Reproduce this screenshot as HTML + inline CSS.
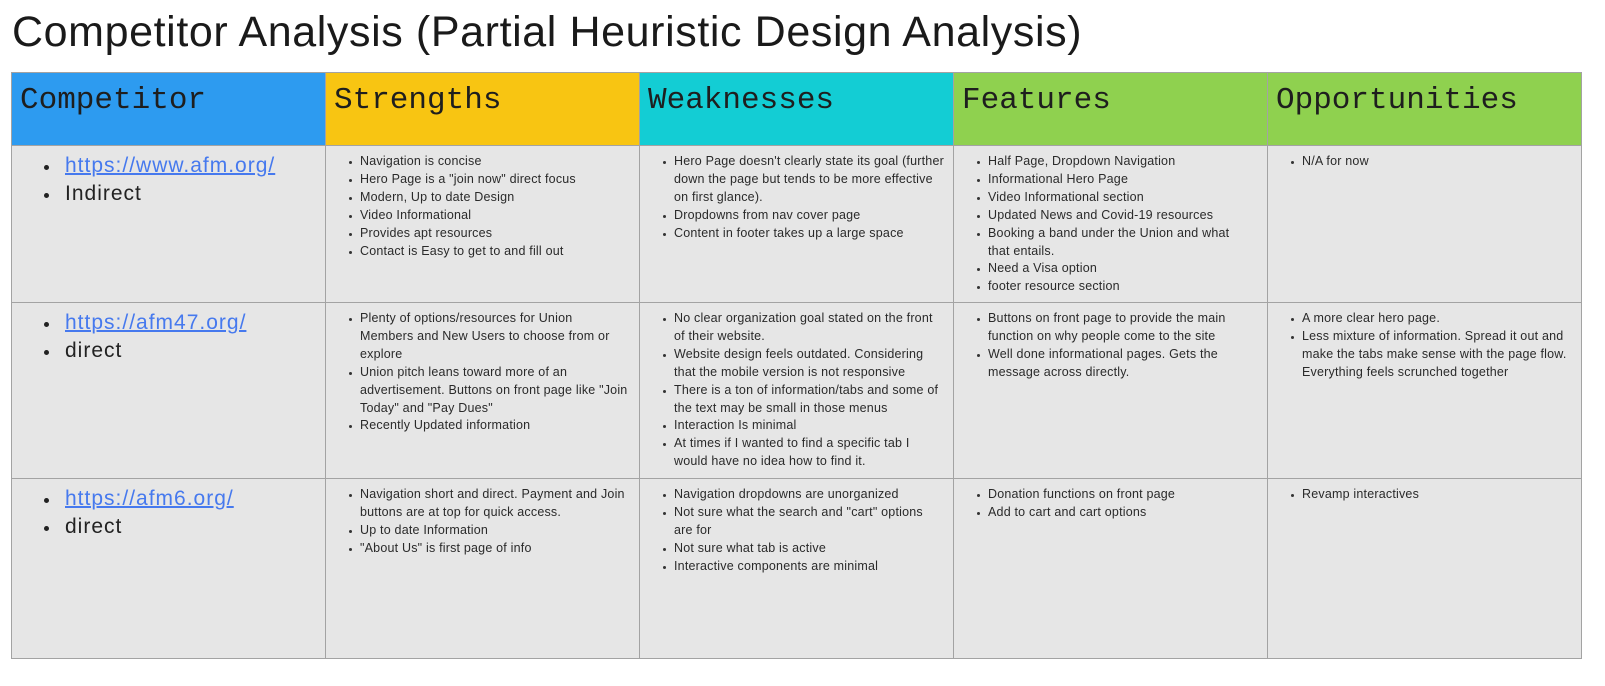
<!DOCTYPE html>
<html><head><meta charset="utf-8">
<style>
*{margin:0;padding:0;box-sizing:border-box}
body{width:1605px;height:686px;background:#fff;position:relative;overflow:hidden;font-family:"Liberation Sans",sans-serif;color:#222}
.title{position:absolute;left:12px;top:4px;font-size:43px;letter-spacing:0.6px;line-height:56px;color:#1a1a1a;white-space:nowrap}
.c{position:absolute;border:1px solid #a3a3a3;background:#e6e6e6}
.h{font-family:"Liberation Mono",monospace;font-size:31px;line-height:40px;padding:8px 0 0 8px;color:#1e1e1e;white-space:nowrap}
ul{list-style:none}
.s li{position:relative;font-size:12.5px;letter-spacing:0.2px;line-height:17.9px;white-space:nowrap;padding-left:34px;color:#2a2a2a}
.s li:before{content:"";position:absolute;left:23px;top:8px;width:3px;height:3px;background:#333;border-radius:50%}
.s{padding-top:7px}
.b li{position:relative;font-size:21px;letter-spacing:1px;line-height:28px;padding-left:53px;white-space:nowrap;color:#222}
.b li:before{content:"";position:absolute;left:32px;top:13px;width:5px;height:5px;background:#222;border-radius:50%}
.b{padding-top:6px}
.b a{color:#4679ee;text-decoration:underline;text-decoration-thickness:2px}
</style></head><body>
<div class="title">Competitor Analysis (Partial Heuristic Design Analysis)</div>

<div class="c h" style="left:11px;top:72px;width:315px;height:74px;background:#2d9bf0">Competitor</div>
<div class="c h" style="left:325px;top:72px;width:315px;height:74px;background:#f8c512">Strengths</div>
<div class="c h" style="left:639px;top:72px;width:315px;height:74px;background:#13cdd4">Weaknesses</div>
<div class="c h" style="left:953px;top:72px;width:315px;height:74px;background:#8fd14f">Features</div>
<div class="c h" style="left:1267px;top:72px;width:315px;height:74px;background:#8fd14f">Opportunities</div>

<!-- row 1 -->
<div class="c" style="left:11px;top:145px;width:315px;height:158px"><ul class="b"><li><a>https://www.afm.org/</a></li><li>Indirect</li></ul></div>
<div class="c" style="left:325px;top:145px;width:315px;height:158px"><ul class="s">
<li>Navigation is concise</li><li>Hero Page is a "join now" direct focus</li><li>Modern, Up to date Design</li><li>Video Informational</li><li>Provides apt resources</li><li>Contact is Easy to get to and fill out</li></ul></div>
<div class="c" style="left:639px;top:145px;width:315px;height:158px"><ul class="s">
<li>Hero Page doesn't clearly state its goal (further<br>down the page but tends to be more effective<br>on first glance).</li><li>Dropdowns from nav cover page</li><li>Content in footer takes up a large space</li></ul></div>
<div class="c" style="left:953px;top:145px;width:315px;height:158px"><ul class="s">
<li>Half Page, Dropdown Navigation</li><li>Informational Hero Page</li><li>Video Informational section</li><li>Updated News and Covid-19 resources</li><li>Booking a band under the Union and what<br>that entails.</li><li>Need a Visa option</li><li>footer resource section</li></ul></div>
<div class="c" style="left:1267px;top:145px;width:315px;height:158px"><ul class="s"><li>N/A for now</li></ul></div>

<!-- row 2 -->
<div class="c" style="left:11px;top:302px;width:315px;height:177px"><ul class="b"><li><a>https://afm47.org/</a></li><li>direct</li></ul></div>
<div class="c" style="left:325px;top:302px;width:315px;height:177px"><ul class="s">
<li>Plenty of options/resources for Union<br>Members and New Users to choose from or<br>explore</li><li>Union pitch leans toward more of an<br>advertisement. Buttons on front page like "Join<br>Today" and "Pay Dues"</li><li>Recently Updated information</li></ul></div>
<div class="c" style="left:639px;top:302px;width:315px;height:177px"><ul class="s">
<li>No clear organization goal stated on the front<br>of their website.</li><li>Website design feels outdated. Considering<br>that the mobile version is not responsive</li><li>There is a ton of information/tabs and some of<br>the text may be small in those menus</li><li>Interaction Is minimal</li><li>At times if I wanted to find a specific tab I<br>would have no idea how to find it.</li></ul></div>
<div class="c" style="left:953px;top:302px;width:315px;height:177px"><ul class="s">
<li>Buttons on front page to provide the main<br>function on why people come to the site</li><li>Well done informational pages. Gets the<br>message across directly.</li></ul></div>
<div class="c" style="left:1267px;top:302px;width:315px;height:177px"><ul class="s">
<li>A more clear hero page.</li><li>Less mixture of information. Spread it out and<br>make the tabs make sense with the page flow.<br>Everything feels scrunched together</li></ul></div>

<!-- row 3 -->
<div class="c" style="left:11px;top:478px;width:315px;height:181px"><ul class="b"><li><a>https://afm6.org/</a></li><li>direct</li></ul></div>
<div class="c" style="left:325px;top:478px;width:315px;height:181px"><ul class="s">
<li>Navigation short and direct. Payment and Join<br>buttons are at top for quick access.</li><li>Up to date Information</li><li>"About Us" is first page of info</li></ul></div>
<div class="c" style="left:639px;top:478px;width:315px;height:181px"><ul class="s">
<li>Navigation dropdowns are unorganized</li><li>Not sure what the search and "cart" options<br>are for</li><li>Not sure what tab is active</li><li>Interactive components are minimal</li></ul></div>
<div class="c" style="left:953px;top:478px;width:315px;height:181px"><ul class="s">
<li>Donation functions on front page</li><li>Add to cart and cart options</li></ul></div>
<div class="c" style="left:1267px;top:478px;width:315px;height:181px"><ul class="s"><li>Revamp interactives</li></ul></div>
</body></html>
